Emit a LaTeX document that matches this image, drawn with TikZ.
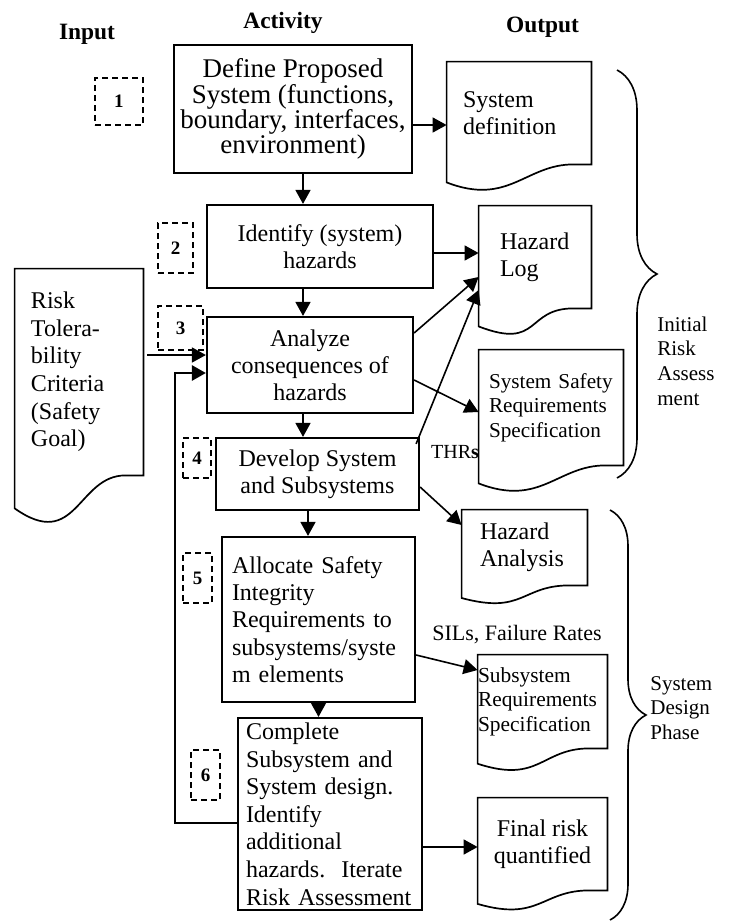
\documentclass[tikz,border=0pt]{standalone}
\usepackage{fontspec}
\setmainfont{Liberation Serif}
\usetikzlibrary{calc,arrows.meta,decorations.pathreplacing}

\newcommand{\docwave}[2][1]{%
  \draw[docline] (#2.south east) -- (#2.north east) -- (#2.north west)
    -- ($(#2.south west)+(0pt,-#1*9pt)$)
    .. controls ($(#2.south west)+(31pt,-#1*21pt)$) and ($(#2.south east)+(-33pt,0pt)$)
    .. ($(#2.south east)+(-9pt,0pt)$) -- cycle;}

\begin{document}
\begin{tikzpicture}[x=0.5pt,y=-0.5pt,
  >={Triangle[length=7pt,width=7.5pt]},
  actbox/.style={draw,line width=1.1pt,inner sep=0pt,align=center,font=\fontsize{12}{13.6}\selectfont},
  docbox/.style={inner sep=0pt,align=left,font=\fontsize{12}{13.6}\selectfont},
  docline/.style={line width=0.85pt},
  numbox/.style={draw,line width=0.8pt,dash pattern=on 3pt off 2pt,inner sep=0pt,font=\fontsize{9.5}{11}\selectfont\bfseries},
  arr/.style={->,line width=0.8pt},
  loopback/.style={->,line width=1.35pt},
  colhead/.style={anchor=base,font=\fontsize{11.7}{14}\selectfont\bfseries},
  phase/.style={anchor=west,align=left,inner sep=0pt,font=\fontsize{10.5}{12.3}\selectfont},
  phasebrace/.style={decorate,decoration={brace,amplitude=#1},line width=0.8pt},
  phasebrace/.default=20pt]

\useasboundingbox (0,0) rectangle (732,923);

\node[colhead] (hinput) at (87,39) {Input};
\node[colhead] (hactivity) at (283,28.5) {Activity};
\node[colhead] (houtput) at (542.5,32) {Output};

\node[actbox,minimum width=119pt,minimum height=64pt,font=\fontsize{13.5}{12.6}\selectfont] (define) at (293,109) {Define Proposed\\System (functions,\\boundary, interfaces,\\environment)};
\node[actbox,minimum width=113pt,minimum height=41.5pt] (identify) at (320,246.5) {Identify (system)\\hazards};
\node[actbox,minimum width=103pt,minimum height=48pt] (analyze) at (310,365) {Analyze\\consequences of\\hazards};
\node[actbox,minimum width=101.5pt,minimum height=36pt] (develop) at (317.5,474) {Develop System\\and Subsystems};
\node[actbox,minimum width=96.5pt,minimum height=82.5pt,align=left,text width=86.5pt] (allocate) at (318.5,619.5) {Allocate Safety\\Integrity\\Requirements to\\subsystems/syste\\m elements};
\node[actbox,minimum width=92pt,minimum height=96pt,align=left,text width=84pt,font=\fontsize{12}{13.8}\selectfont] (complete) at (330,814) {Complete\\Subsystem and\\System design.\\Identify\\additional\\hazards.\ \ Iterate\\Risk Assessment};

\node[numbox,minimum width=24pt,minimum height=23.5pt] (n1) at (119,101.5) {1};
\node[numbox,minimum width=17.5pt,minimum height=25pt] (n2) at (175.5,248) {2};
\node[numbox,minimum width=22.5pt,minimum height=22pt] (n3) at (180.5,328) {3};
\node[numbox,minimum width=14pt,minimum height=20pt] (n4) at (197,458) {4};
\node[numbox,minimum width=14.5pt,minimum height=25pt] (n5) at (197.5,578) {5};
\node[numbox,minimum width=14.5pt,minimum height=25pt] (n6) at (205.5,775) {6};

\node[docbox,minimum width=64pt,minimum height=103pt,text width=48pt,font=\fontsize{12}{13.8}\selectfont] (risk) at (79,372) {Risk\\Tolera-\\bility\\Criteria\\(Safety\\Goal)};
\docwave[1.83]{risk}

\node[docbox,minimum width=72pt,minimum height=51pt,text width=56pt] (sysdef) at (519,113) {System\\definition};
\node[docbox,minimum width=56pt,minimum height=51pt,text width=35pt] (hazlog) at (535,257) {Hazard\\Log};
\node[docbox,minimum width=72pt,minimum height=57.5pt,text width=62pt,font=\fontsize{10.6}{12.3}\selectfont] (ssrs) at (551,407.5) {System Safety\\Requirements\\Specification};
\node[docbox,minimum width=62.5pt,minimum height=37.5pt,text width=44.5pt] (hazana) at (524.5,547.5) {Hazard\\Analysis};
\node[docbox,minimum width=64.5pt,minimum height=46.5pt,text width=64.5pt,font=\fontsize{10.7}{12.3}\selectfont] (subreq) at (542.5,701.5) {Subsystem\\Requirements\\Specification};
\node[docbox,align=center,minimum width=64.5pt,minimum height=46pt] (final) at (542.5,844) {Final risk\\quantified};
\docwave{sysdef}
\docwave{hazlog}
\docwave{ssrs}
\docwave[0.7]{hazana}
\docwave[0.85]{subreq}
\docwave[0.75]{final}

\draw[arr] ([xshift=5pt]define.south) -- ([xshift=5pt]define.south |- identify.north);
\draw[arr] ([xshift=-8.5pt]identify.south) -- ([xshift=-8.5pt]identify.south |- analyze.north);
\draw[arr] ([xshift=-3.5pt]analyze.south) -- ([xshift=-3.5pt]analyze.south |- develop.north);
\draw[arr] ([xshift=-4.75pt]develop.south) -- ([xshift=-4.75pt]develop.south |- allocate.north);
\draw[arr] (allocate.south) -- (allocate.south |- complete.north);

\draw[arr] ([xshift=2pt,yshift=8.5pt]risk.east) -- ([yshift=8.5pt]risk.east -| analyze.west);
\coordinate (turn) at (175,373);
\draw[loopback] ([yshift=-4.5pt]complete.west) -| (turn) -- (turn -| analyze.west);

\draw[arr] ([yshift=-8pt]define.east) -- ([yshift=-8pt]define.east -| sysdef.west);
\draw[arr] ([yshift=-3.25pt]identify.east) -- ([yshift=-3.25pt]identify.east -| hazlog.west);
\draw[arr] ([yshift=16pt]analyze.east) -- ([yshift=-10pt]hazlog.west);
\draw[arr] ([xshift=-2pt,yshift=-3.5pt]develop.north east) -- ([yshift=-16.5pt]hazlog.west);
\draw[arr] ([yshift=-7.5pt]analyze.east) -- ([yshift=-2.25pt]ssrs.west);
\draw[arr] ([yshift=-6.5pt]develop.east) -- ([yshift=11.25pt]hazana.west);
\draw[arr] ([yshift=-17.75pt]allocate.east) -- ([yshift=15.75pt]subreq.west);
\draw[arr] ([yshift=-16.5pt]complete.east) -- ([yshift=-16.5pt]complete.east -| final.west);

\node[font=\fontsize{10}{12}\selectfont] (thrs) at (455,452) {THR\textbf{s}};
\node[font=\fontsize{11}{13}\selectfont] (sils) at (517,635) {SILs, Failure Rates};

\draw[phasebrace] (617,70) -- (617,478);
\node[phase] (initial) at (657,361) {Initial\\Risk\\Assess\\ment};
\draw[phasebrace=18pt] (610,510) -- (610,920);
\node[phase] (design) at (650,708) {System\\Design\\Phase};

\end{tikzpicture}
\end{document}
